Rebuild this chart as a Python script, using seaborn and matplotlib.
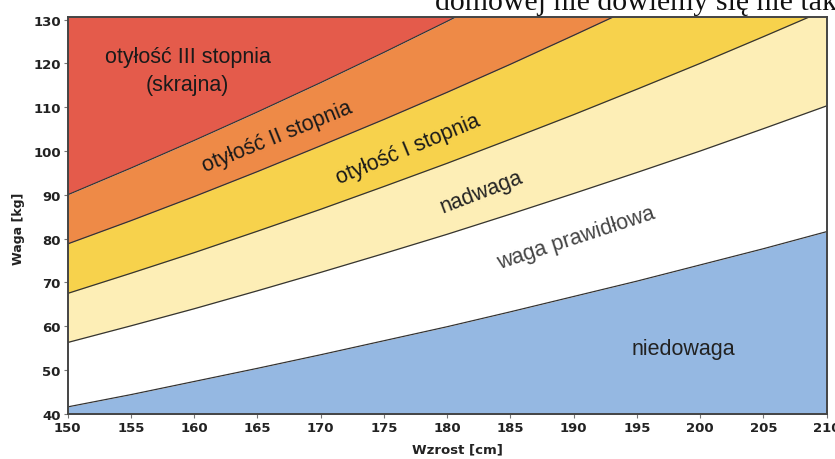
import numpy as np
import pandas as pd
import seaborn as sns
import matplotlib.pyplot as plt

# height [cm] and weight boundaries [kg]
heights = [150, 155, 160, 165, 170, 175, 180, 185, 190, 195, 200, 205, 210]
bound_under = [41.6, 44.4, 47.4, 50.4, 53.5, 56.7, 59.9, 63.3, 66.8, 70.3, 74.0, 77.7, 81.6]
bound_normal = [56.3, 60.1, 64.0, 68.1, 72.3, 76.6, 81.0, 85.6, 90.3, 95.1, 100.0, 105.1, 110.3]
bound_over = [67.5, 72.1, 76.8, 81.7, 86.7, 91.9, 97.2, 102.7, 108.3, 114.1, 120.0, 126.1, 132.3]
bound_ob1 = [78.8, 84.1, 89.6, 95.3, 101.2, 107.2, 113.4, 119.8, 126.4, 133.1, 140.0, 147.1, 154.4]
bound_ob2 = [90.0, 96.1, 102.4, 108.9, 115.6, 122.5, 129.6, 136.9, 144.4, 152.1, 160.0, 168.1, 176.4]

bands = ["niedowaga", "waga prawidłowa", "nadwaga", "otyłość I stopnia",
         "otyłość II stopnia", "otyłość III stopnia\n(skrajna)"]
band_colors = ["#95b8e2", "#ffffff", "#fdeeb6", "#f7d24c", "#ee8a47", "#e45b4b"]

# label positions (height, weight) and rotation
label_h = [198.7, 190.2, 182.7, 176.9, 166.6, 159.5]
label_w = [55.0, 80.3, 90.8, 100.4, 103.3, 118.3]
label_rot = [0, 18, 21, 22.5, 22, 0]
label_colors = ["#222222", "#444444", "#222222", "#1a1a1a", "#1a1a1a", "#1a1a1a"]

sns.set_theme(style="ticks")
plt.rcParams['font.family'] = ['Liberation Sans', 'DejaVu Sans']

fig = plt.figure(figsize=(8.35, 4.6), dpi=100)
ax = fig.add_axes([0.081, 0.098, 0.909, 0.863])

bounds = [np.full(len(heights), 0.0), bound_under, bound_normal, bound_over,
          bound_ob1, bound_ob2, np.full(len(heights), 200.0)]
for i, col in enumerate(band_colors):
    ax.fill_between(heights, bounds[i], bounds[i + 1], color=col, lw=0)

df = pd.DataFrame({"h": heights * 5,
                   "w": bound_under + bound_normal + bound_over + bound_ob1 + bound_ob2,
                   "b": sum([[k] * len(heights) for k in range(5)], [])})
sns.lineplot(data=df, x="h", y="w", units="b", estimator=None, color="#333333",
             lw=0.9, ax=ax, legend=False)

for txt, h, w, r, c in zip(bands, label_h, label_w, label_rot, label_colors):
    ax.text(h, w, txt, rotation=r, rotation_mode="anchor", ha="center", va="center",
            fontsize=15.5, color=c, linespacing=1.45)

ax.set_xlim(150, 210)
ax.set_ylim(40, 130.6)
ax.set_xticks(range(150, 211, 5))
ax.set_yticks(range(40, 131, 10))
ax.tick_params(direction="out", length=3, width=0.8, color="#777777", pad=2)
for lab in ax.get_xticklabels() + ax.get_yticklabels():
    lab.set_fontfamily("DejaVu Sans")
    lab.set_fontweight("bold")
    lab.set_fontsize(9.5)
    lab.set_color("#222222")
for s in ax.spines.values():
    s.set_color("#444444")
    s.set_linewidth(1.4)

ax.set_xlabel("Wzrost [cm]", fontsize=9.5, fontweight="bold", family="DejaVu Sans",
              color="#222222")
ax.set_ylabel("Waga [kg]", fontsize=9, fontweight="bold", family="DejaVu Sans",
              color="#222222")
ax.xaxis.set_label_coords(0.514, -0.072)
ax.yaxis.set_label_coords(-0.056, 0.47)

fig.text(435 / 835, 1 - 10 / 460, "domowej nie dowiemy się nie tak", family="Liberation Serif",
         fontsize=21.5, va="baseline", ha="left", color="#111111")

fig.savefig("out.png", dpi=100)
